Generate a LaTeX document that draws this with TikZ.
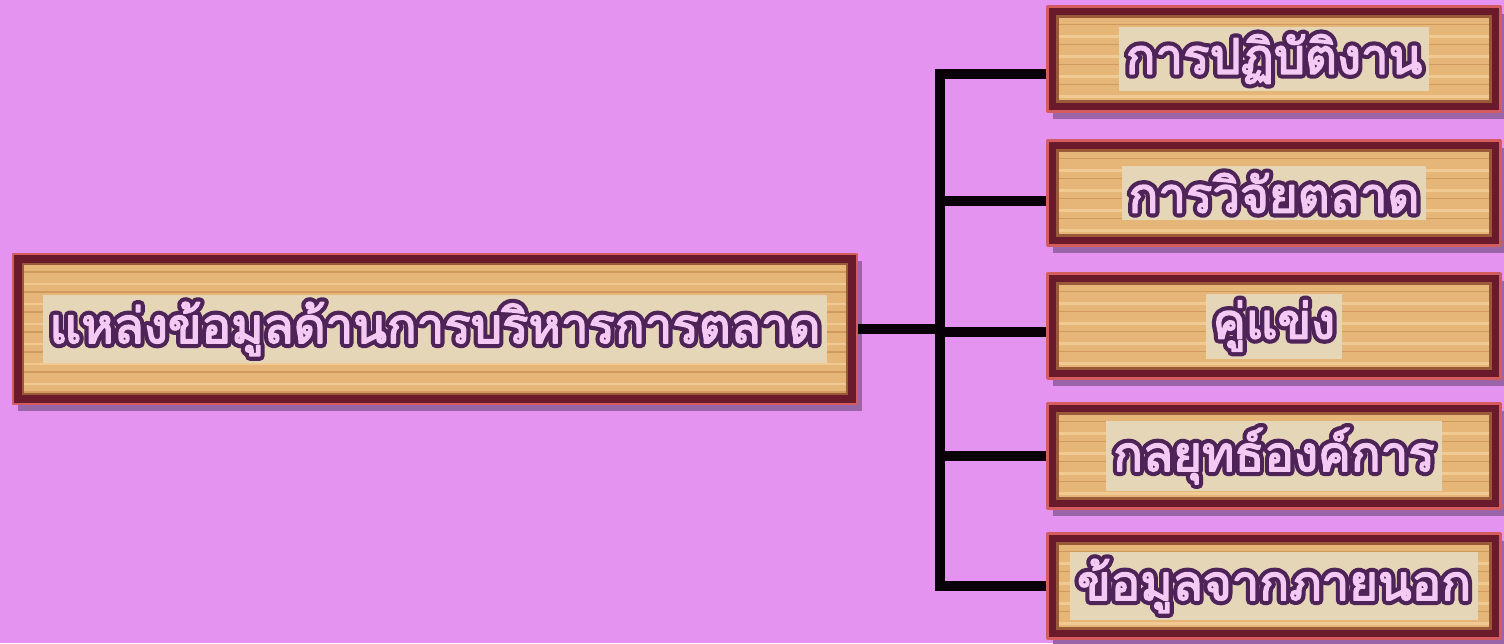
\documentclass[tikz,border=0pt]{standalone}
\usepackage{fontspec}
\newfontfamily\thaifont[Script=Thai,FakeBold=3]{Loma}
\newfontfamily\thairim[Script=Thai,FakeBold=20]{Loma}
\usetikzlibrary{positioning,shadows}

\definecolor{bgpink}{HTML}{E593F0}
\definecolor{wireblack}{HTML}{0A0008}
\definecolor{rimred}{HTML}{D45C5E}
\definecolor{frame}{HTML}{6A1A2A}
\definecolor{wood}{HTML}{E6B578}
\definecolor{woodedge}{HTML}{9A5A3A}
\definecolor{grainA}{HTML}{D09A5E}
\definecolor{grainB}{HTML}{F0CA92}
\definecolor{shade}{HTML}{9A64A8}
\definecolor{glow}{HTML}{E6D6B8}
\definecolor{txtlight}{HTML}{F4CAF4}
\definecolor{txtrim}{HTML}{4E2458}

% label text: light letters over a dark rim
\newcommand{\woodtext}[1]{{\setlength{\fboxsep}{2pt}\colorbox{glow}{\rlap{\textcolor{txtrim}{\thairim #1}}\textcolor{txtlight}{\thaifont #1}}}}

\begin{document}
\begin{tikzpicture}[
            woodbox/.style={
                rectangle,
                draw=rimred,
                line width=0.8pt,
                line join=round,
                fill=wood,
                inner sep=0pt,
                minimum width=4.53cm,
                minimum height=1.05cm,
                drop shadow={shadow xshift=0.05cm, shadow yshift=-0.07cm,
                    fill=shade, opacity=1},
                path picture={
                    \foreach \k in {1,...,7}
                        \draw[grainA, line width=0.5pt]
                            ([yshift=-\k*0.2cm+0.02cm]path picture bounding box.north west)
                            -- ([yshift=-\k*0.2cm+0.02cm]path picture bounding box.north east);
                    \foreach \k in {1,...,7}
                        \draw[grainB, line width=0.7pt]
                            ([yshift=-\k*0.2cm+0.1cm]path picture bounding box.north west)
                            -- ([yshift=-\k*0.2cm+0.1cm]path picture bounding box.north east);
                    \draw[frame, line width=0.2cm, line join=miter]
                        (path picture bounding box.north west)
                        rectangle (path picture bounding box.south east);
                    \draw[woodedge, line width=0.6pt, line join=miter]
                        ([shift={(0.1,-0.1)}]path picture bounding box.north west)
                        rectangle ([shift={(-0.1,0.1)}]path picture bounding box.south east);
                },
                font=\fontsize{14}{16}\selectfont
            },
            wire/.style={
                draw=wireblack,
                line width=3pt
            }
        ]

            \fill[bgpink] (0,0) rectangle (15.04,-6.43);
            \useasboundingbox (0,0) rectangle (15.04,-6.43);

            \node[woodbox, minimum width=8.44cm, minimum height=1.50cm] (src) at (4.35, -3.29)
                {\woodtext{แหล่งข้อมูลด้านการบริหารการตลาด}};

            \node[woodbox] (b1) at (12.74, -0.59) {\woodtext{การปฏิบัติงาน}};
            \node[woodbox] (b2) at (12.74, -1.93) {\woodtext{การวิจัยตลาด}};
            \node[woodbox] (b3) at (12.74, -3.26) {\woodtext{คู่แข่ง}};
            \node[woodbox] (b4) at (12.74, -4.56) {\woodtext{กลยุทธ์องค์การ}};
            \node[woodbox] (b5) at (12.74, -5.86) {\woodtext{ข้อมูลจากภายนอก}};

            \coordinate (hub) at (9.40, -3.31);

            \draw[wire] (src.east) -- (src.east -| hub);
            \foreach \b/\s in {b1/-0.15, b2/-0.08, b3/-0.06, b4/0, b5/0}
                \draw[wire] (hub) |- ([yshift=\s cm]\b.west);

        \end{tikzpicture}
\end{document}
